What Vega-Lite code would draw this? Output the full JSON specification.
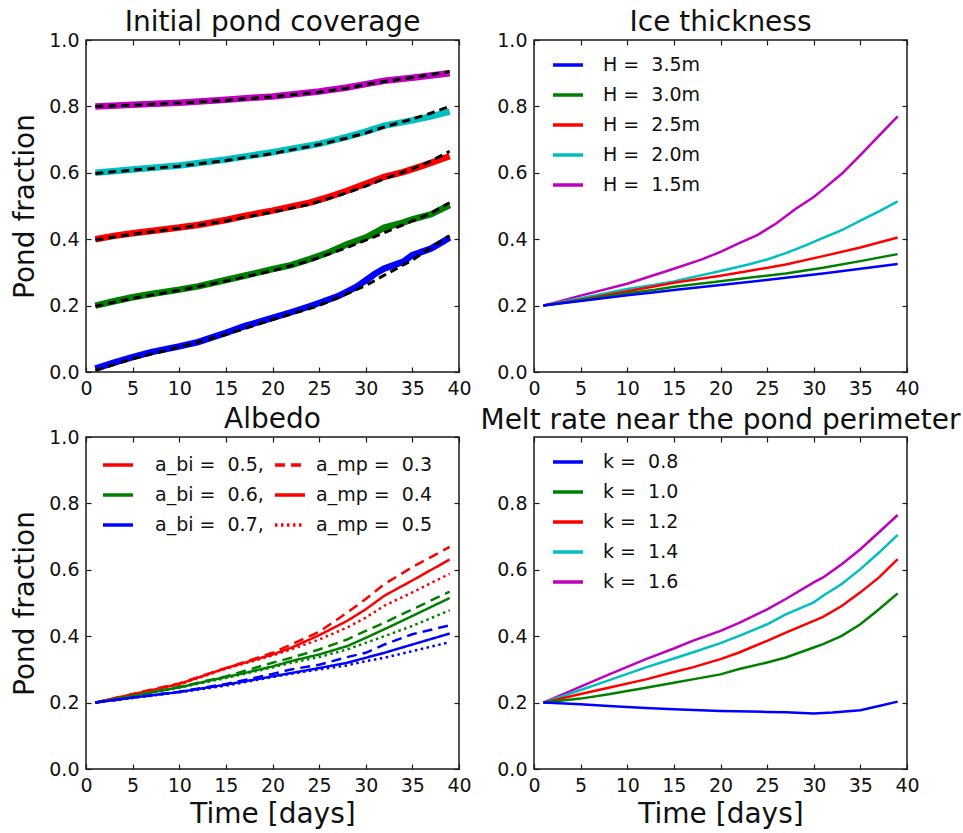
{
  "$schema": "https://vega.github.io/schema/vega-lite/v6.json",
  "padding": {"left": 11, "top": 8, "right": 0, "bottom": 0},
  "background": "white",
  "columns": 2,
  "bounds": "flush",
  "spacing": {"row": 65, "column": 75},
  "resolve": {
    "scale": {"color": "independent", "strokeDash": "independent"},
    "legend": {"color": "independent", "strokeDash": "independent"}
  },
  "datasets": {
    "pond": [
      {"day":1,"frac":0.01,"init":"0.0","kind":"model"},{"day":3,"frac":0.028,"init":"0.0","kind":"model"},{"day":5,"frac":0.045,"init":"0.0","kind":"model"},{"day":7,"frac":0.06,"init":"0.0","kind":"model"},{"day":10,"frac":0.077,"init":"0.0","kind":"model"},{"day":12,"frac":0.09,"init":"0.0","kind":"model"},{"day":15,"frac":0.118,"init":"0.0","kind":"model"},{"day":17,"frac":0.138,"init":"0.0","kind":"model"},{"day":20,"frac":0.163,"init":"0.0","kind":"model"},{"day":22,"frac":0.18,"init":"0.0","kind":"model"},{"day":24,"frac":0.198,"init":"0.0","kind":"model"},{"day":25,"frac":0.208,"init":"0.0","kind":"model"},{"day":27,"frac":0.228,"init":"0.0","kind":"model"},{"day":28,"frac":0.242,"init":"0.0","kind":"model"},{"day":29,"frac":0.256,"init":"0.0","kind":"model"},{"day":30,"frac":0.276,"init":"0.0","kind":"model"},{"day":31,"frac":0.296,"init":"0.0","kind":"model"},{"day":32,"frac":0.312,"init":"0.0","kind":"model"},{"day":33,"frac":0.322,"init":"0.0","kind":"model"},{"day":34,"frac":0.332,"init":"0.0","kind":"model"},{"day":35,"frac":0.352,"init":"0.0","kind":"model"},{"day":36,"frac":0.362,"init":"0.0","kind":"model"},{"day":37,"frac":0.372,"init":"0.0","kind":"model"},{"day":38,"frac":0.388,"init":"0.0","kind":"model"},{"day":39,"frac":0.405,"init":"0.0","kind":"model"},
      {"day":1,"frac":0.2,"init":"0.2","kind":"model"},{"day":3,"frac":0.213,"init":"0.2","kind":"model"},{"day":5,"frac":0.225,"init":"0.2","kind":"model"},{"day":7,"frac":0.235,"init":"0.2","kind":"model"},{"day":10,"frac":0.248,"init":"0.2","kind":"model"},{"day":12,"frac":0.258,"init":"0.2","kind":"model"},{"day":15,"frac":0.277,"init":"0.2","kind":"model"},{"day":17,"frac":0.29,"init":"0.2","kind":"model"},{"day":20,"frac":0.31,"init":"0.2","kind":"model"},{"day":22,"frac":0.322,"init":"0.2","kind":"model"},{"day":24,"frac":0.34,"init":"0.2","kind":"model"},{"day":26,"frac":0.36,"init":"0.2","kind":"model"},{"day":28,"frac":0.385,"init":"0.2","kind":"model"},{"day":30,"frac":0.405,"init":"0.2","kind":"model"},{"day":31,"frac":0.42,"init":"0.2","kind":"model"},{"day":32,"frac":0.435,"init":"0.2","kind":"model"},{"day":34,"frac":0.45,"init":"0.2","kind":"model"},{"day":35,"frac":0.46,"init":"0.2","kind":"model"},{"day":37,"frac":0.475,"init":"0.2","kind":"model"},{"day":39,"frac":0.503,"init":"0.2","kind":"model"},
      {"day":1,"frac":0.4,"init":"0.4","kind":"model"},{"day":3,"frac":0.41,"init":"0.4","kind":"model"},{"day":5,"frac":0.418,"init":"0.4","kind":"model"},{"day":7,"frac":0.425,"init":"0.4","kind":"model"},{"day":10,"frac":0.435,"init":"0.4","kind":"model"},{"day":12,"frac":0.443,"init":"0.4","kind":"model"},{"day":15,"frac":0.458,"init":"0.4","kind":"model"},{"day":17,"frac":0.47,"init":"0.4","kind":"model"},{"day":20,"frac":0.486,"init":"0.4","kind":"model"},{"day":22,"frac":0.498,"init":"0.4","kind":"model"},{"day":24,"frac":0.51,"init":"0.4","kind":"model"},{"day":26,"frac":0.527,"init":"0.4","kind":"model"},{"day":28,"frac":0.546,"init":"0.4","kind":"model"},{"day":30,"frac":0.567,"init":"0.4","kind":"model"},{"day":32,"frac":0.588,"init":"0.4","kind":"model"},{"day":34,"frac":0.602,"init":"0.4","kind":"model"},{"day":36,"frac":0.62,"init":"0.4","kind":"model"},{"day":38,"frac":0.64,"init":"0.4","kind":"model"},{"day":39,"frac":0.65,"init":"0.4","kind":"model"},
      {"day":1,"frac":0.6,"init":"0.6","kind":"model"},{"day":5,"frac":0.61,"init":"0.6","kind":"model"},{"day":10,"frac":0.622,"init":"0.6","kind":"model"},{"day":15,"frac":0.64,"init":"0.6","kind":"model"},{"day":20,"frac":0.662,"init":"0.6","kind":"model"},{"day":25,"frac":0.687,"init":"0.6","kind":"model"},{"day":28,"frac":0.708,"init":"0.6","kind":"model"},{"day":30,"frac":0.724,"init":"0.6","kind":"model"},{"day":32,"frac":0.742,"init":"0.6","kind":"model"},{"day":35,"frac":0.758,"init":"0.6","kind":"model"},{"day":37,"frac":0.77,"init":"0.6","kind":"model"},{"day":39,"frac":0.784,"init":"0.6","kind":"model"},
      {"day":1,"frac":0.8,"init":"0.8","kind":"model"},{"day":5,"frac":0.805,"init":"0.8","kind":"model"},{"day":10,"frac":0.811,"init":"0.8","kind":"model"},{"day":15,"frac":0.82,"init":"0.8","kind":"model"},{"day":20,"frac":0.83,"init":"0.8","kind":"model"},{"day":25,"frac":0.845,"init":"0.8","kind":"model"},{"day":28,"frac":0.857,"init":"0.8","kind":"model"},{"day":30,"frac":0.867,"init":"0.8","kind":"model"},{"day":32,"frac":0.877,"init":"0.8","kind":"model"},{"day":35,"frac":0.886,"init":"0.8","kind":"model"},{"day":37,"frac":0.893,"init":"0.8","kind":"model"},{"day":39,"frac":0.9,"init":"0.8","kind":"model"},
      {"day":1,"frac":0.005,"init":"0.0","kind":"fit"},{"day":5,"frac":0.04,"init":"0.0","kind":"fit"},{"day":10,"frac":0.075,"init":"0.0","kind":"fit"},{"day":15,"frac":0.113,"init":"0.0","kind":"fit"},{"day":20,"frac":0.158,"init":"0.0","kind":"fit"},{"day":25,"frac":0.2,"init":"0.0","kind":"fit"},{"day":28,"frac":0.236,"init":"0.0","kind":"fit"},{"day":30,"frac":0.261,"init":"0.0","kind":"fit"},{"day":31,"frac":0.276,"init":"0.0","kind":"fit"},{"day":33,"frac":0.307,"init":"0.0","kind":"fit"},{"day":35,"frac":0.337,"init":"0.0","kind":"fit"},{"day":37,"frac":0.375,"init":"0.0","kind":"fit"},{"day":39,"frac":0.41,"init":"0.0","kind":"fit"},
      {"day":1,"frac":0.198,"init":"0.2","kind":"fit"},{"day":5,"frac":0.222,"init":"0.2","kind":"fit"},{"day":10,"frac":0.246,"init":"0.2","kind":"fit"},{"day":15,"frac":0.274,"init":"0.2","kind":"fit"},{"day":20,"frac":0.305,"init":"0.2","kind":"fit"},{"day":24,"frac":0.335,"init":"0.2","kind":"fit"},{"day":28,"frac":0.375,"init":"0.2","kind":"fit"},{"day":30,"frac":0.397,"init":"0.2","kind":"fit"},{"day":32,"frac":0.42,"init":"0.2","kind":"fit"},{"day":35,"frac":0.455,"init":"0.2","kind":"fit"},{"day":37,"frac":0.478,"init":"0.2","kind":"fit"},{"day":39,"frac":0.51,"init":"0.2","kind":"fit"},
      {"day":1,"frac":0.398,"init":"0.4","kind":"fit"},{"day":5,"frac":0.415,"init":"0.4","kind":"fit"},{"day":10,"frac":0.433,"init":"0.4","kind":"fit"},{"day":15,"frac":0.455,"init":"0.4","kind":"fit"},{"day":20,"frac":0.482,"init":"0.4","kind":"fit"},{"day":24,"frac":0.505,"init":"0.4","kind":"fit"},{"day":28,"frac":0.54,"init":"0.4","kind":"fit"},{"day":30,"frac":0.56,"init":"0.4","kind":"fit"},{"day":32,"frac":0.582,"init":"0.4","kind":"fit"},{"day":35,"frac":0.612,"init":"0.4","kind":"fit"},{"day":37,"frac":0.635,"init":"0.4","kind":"fit"},{"day":39,"frac":0.665,"init":"0.4","kind":"fit"},
      {"day":1,"frac":0.598,"init":"0.6","kind":"fit"},{"day":5,"frac":0.608,"init":"0.6","kind":"fit"},{"day":10,"frac":0.62,"init":"0.6","kind":"fit"},{"day":15,"frac":0.637,"init":"0.6","kind":"fit"},{"day":20,"frac":0.658,"init":"0.6","kind":"fit"},{"day":25,"frac":0.685,"init":"0.6","kind":"fit"},{"day":28,"frac":0.705,"init":"0.6","kind":"fit"},{"day":30,"frac":0.72,"init":"0.6","kind":"fit"},{"day":32,"frac":0.738,"init":"0.6","kind":"fit"},{"day":35,"frac":0.762,"init":"0.6","kind":"fit"},{"day":37,"frac":0.78,"init":"0.6","kind":"fit"},{"day":39,"frac":0.8,"init":"0.6","kind":"fit"},
      {"day":1,"frac":0.8,"init":"0.8","kind":"fit"},{"day":5,"frac":0.804,"init":"0.8","kind":"fit"},{"day":10,"frac":0.81,"init":"0.8","kind":"fit"},{"day":15,"frac":0.818,"init":"0.8","kind":"fit"},{"day":20,"frac":0.829,"init":"0.8","kind":"fit"},{"day":25,"frac":0.843,"init":"0.8","kind":"fit"},{"day":28,"frac":0.855,"init":"0.8","kind":"fit"},{"day":30,"frac":0.866,"init":"0.8","kind":"fit"},{"day":32,"frac":0.875,"init":"0.8","kind":"fit"},{"day":35,"frac":0.887,"init":"0.8","kind":"fit"},{"day":37,"frac":0.896,"init":"0.8","kind":"fit"},{"day":39,"frac":0.905,"init":"0.8","kind":"fit"}
    ],
    "ice": [
      {"day":1,"frac":0.2,"H":"H = \u00a01.5m"},{"day":5,"frac":0.23,"H":"H = \u00a01.5m"},{"day":10,"frac":0.266,"H":"H = \u00a01.5m"},{"day":13,"frac":0.293,"H":"H = \u00a01.5m"},{"day":15,"frac":0.311,"H":"H = \u00a01.5m"},{"day":18,"frac":0.339,"H":"H = \u00a01.5m"},{"day":20,"frac":0.362,"H":"H = \u00a01.5m"},{"day":22,"frac":0.388,"H":"H = \u00a01.5m"},{"day":24,"frac":0.413,"H":"H = \u00a01.5m"},{"day":26,"frac":0.448,"H":"H = \u00a01.5m"},{"day":28,"frac":0.49,"H":"H = \u00a01.5m"},{"day":30,"frac":0.527,"H":"H = \u00a01.5m"},{"day":31,"frac":0.55,"H":"H = \u00a01.5m"},{"day":33,"frac":0.597,"H":"H = \u00a01.5m"},{"day":35,"frac":0.653,"H":"H = \u00a01.5m"},{"day":37,"frac":0.712,"H":"H = \u00a01.5m"},{"day":39,"frac":0.77,"H":"H = \u00a01.5m"},
      {"day":1,"frac":0.2,"H":"H = \u00a02.0m"},{"day":5,"frac":0.222,"H":"H = \u00a02.0m"},{"day":10,"frac":0.25,"H":"H = \u00a02.0m"},{"day":13,"frac":0.263,"H":"H = \u00a02.0m"},{"day":15,"frac":0.273,"H":"H = \u00a02.0m"},{"day":20,"frac":0.304,"H":"H = \u00a02.0m"},{"day":23,"frac":0.324,"H":"H = \u00a02.0m"},{"day":25,"frac":0.339,"H":"H = \u00a02.0m"},{"day":27,"frac":0.358,"H":"H = \u00a02.0m"},{"day":29,"frac":0.38,"H":"H = \u00a02.0m"},{"day":31,"frac":0.404,"H":"H = \u00a02.0m"},{"day":33,"frac":0.427,"H":"H = \u00a02.0m"},{"day":35,"frac":0.456,"H":"H = \u00a02.0m"},{"day":37,"frac":0.484,"H":"H = \u00a02.0m"},{"day":39,"frac":0.514,"H":"H = \u00a02.0m"},
      {"day":1,"frac":0.2,"H":"H = \u00a02.5m"},{"day":5,"frac":0.218,"H":"H = \u00a02.5m"},{"day":10,"frac":0.243,"H":"H = \u00a02.5m"},{"day":13,"frac":0.258,"H":"H = \u00a02.5m"},{"day":15,"frac":0.269,"H":"H = \u00a02.5m"},{"day":20,"frac":0.29,"H":"H = \u00a02.5m"},{"day":23,"frac":0.304,"H":"H = \u00a02.5m"},{"day":27,"frac":0.324,"H":"H = \u00a02.5m"},{"day":31,"frac":0.349,"H":"H = \u00a02.5m"},{"day":35,"frac":0.375,"H":"H = \u00a02.5m"},{"day":39,"frac":0.405,"H":"H = \u00a02.5m"},
      {"day":1,"frac":0.2,"H":"H = \u00a03.0m"},{"day":5,"frac":0.216,"H":"H = \u00a03.0m"},{"day":10,"frac":0.237,"H":"H = \u00a03.0m"},{"day":13,"frac":0.248,"H":"H = \u00a03.0m"},{"day":15,"frac":0.257,"H":"H = \u00a03.0m"},{"day":20,"frac":0.273,"H":"H = \u00a03.0m"},{"day":23,"frac":0.284,"H":"H = \u00a03.0m"},{"day":27,"frac":0.297,"H":"H = \u00a03.0m"},{"day":31,"frac":0.314,"H":"H = \u00a03.0m"},{"day":35,"frac":0.334,"H":"H = \u00a03.0m"},{"day":39,"frac":0.355,"H":"H = \u00a03.0m"},
      {"day":1,"frac":0.2,"H":"H = \u00a03.5m"},{"day":5,"frac":0.214,"H":"H = \u00a03.5m"},{"day":10,"frac":0.231,"H":"H = \u00a03.5m"},{"day":13,"frac":0.24,"H":"H = \u00a03.5m"},{"day":15,"frac":0.247,"H":"H = \u00a03.5m"},{"day":20,"frac":0.262,"H":"H = \u00a03.5m"},{"day":23,"frac":0.271,"H":"H = \u00a03.5m"},{"day":27,"frac":0.284,"H":"H = \u00a03.5m"},{"day":31,"frac":0.297,"H":"H = \u00a03.5m"},{"day":35,"frac":0.311,"H":"H = \u00a03.5m"},{"day":39,"frac":0.325,"H":"H = \u00a03.5m"}
    ],
    "albedo": [
      {"day":1,"frac":0.2,"abi":"a_bi = \u00a00.5,","amp":"a_mp = \u00a00.3"},{"day":5,"frac":0.226,"abi":"a_bi = \u00a00.5,","amp":"a_mp = \u00a00.3"},{"day":10,"frac":0.258,"abi":"a_bi = \u00a00.5,","amp":"a_mp = \u00a00.3"},{"day":15,"frac":0.304,"abi":"a_bi = \u00a00.5,","amp":"a_mp = \u00a00.3"},{"day":20,"frac":0.35,"abi":"a_bi = \u00a00.5,","amp":"a_mp = \u00a00.3"},{"day":22,"frac":0.375,"abi":"a_bi = \u00a00.5,","amp":"a_mp = \u00a00.3"},{"day":25,"frac":0.413,"abi":"a_bi = \u00a00.5,","amp":"a_mp = \u00a00.3"},{"day":28,"frac":0.471,"abi":"a_bi = \u00a00.5,","amp":"a_mp = \u00a00.3"},{"day":30,"frac":0.512,"abi":"a_bi = \u00a00.5,","amp":"a_mp = \u00a00.3"},{"day":32,"frac":0.557,"abi":"a_bi = \u00a00.5,","amp":"a_mp = \u00a00.3"},{"day":35,"frac":0.608,"abi":"a_bi = \u00a00.5,","amp":"a_mp = \u00a00.3"},{"day":39,"frac":0.669,"abi":"a_bi = \u00a00.5,","amp":"a_mp = \u00a00.3"},
      {"day":1,"frac":0.2,"abi":"a_bi = \u00a00.5,","amp":"a_mp = \u00a00.4"},{"day":5,"frac":0.225,"abi":"a_bi = \u00a00.5,","amp":"a_mp = \u00a00.4"},{"day":10,"frac":0.256,"abi":"a_bi = \u00a00.5,","amp":"a_mp = \u00a00.4"},{"day":15,"frac":0.304,"abi":"a_bi = \u00a00.5,","amp":"a_mp = \u00a00.4"},{"day":17,"frac":0.32,"abi":"a_bi = \u00a00.5,","amp":"a_mp = \u00a00.4"},{"day":20,"frac":0.345,"abi":"a_bi = \u00a00.5,","amp":"a_mp = \u00a00.4"},{"day":22,"frac":0.365,"abi":"a_bi = \u00a00.5,","amp":"a_mp = \u00a00.4"},{"day":25,"frac":0.403,"abi":"a_bi = \u00a00.5,","amp":"a_mp = \u00a00.4"},{"day":28,"frac":0.446,"abi":"a_bi = \u00a00.5,","amp":"a_mp = \u00a00.4"},{"day":30,"frac":0.481,"abi":"a_bi = \u00a00.5,","amp":"a_mp = \u00a00.4"},{"day":32,"frac":0.522,"abi":"a_bi = \u00a00.5,","amp":"a_mp = \u00a00.4"},{"day":35,"frac":0.568,"abi":"a_bi = \u00a00.5,","amp":"a_mp = \u00a00.4"},{"day":39,"frac":0.631,"abi":"a_bi = \u00a00.5,","amp":"a_mp = \u00a00.4"},
      {"day":1,"frac":0.2,"abi":"a_bi = \u00a00.5,","amp":"a_mp = \u00a00.5"},{"day":5,"frac":0.224,"abi":"a_bi = \u00a00.5,","amp":"a_mp = \u00a00.5"},{"day":10,"frac":0.254,"abi":"a_bi = \u00a00.5,","amp":"a_mp = \u00a00.5"},{"day":15,"frac":0.302,"abi":"a_bi = \u00a00.5,","amp":"a_mp = \u00a00.5"},{"day":20,"frac":0.342,"abi":"a_bi = \u00a00.5,","amp":"a_mp = \u00a00.5"},{"day":22,"frac":0.36,"abi":"a_bi = \u00a00.5,","amp":"a_mp = \u00a00.5"},{"day":25,"frac":0.39,"abi":"a_bi = \u00a00.5,","amp":"a_mp = \u00a00.5"},{"day":28,"frac":0.426,"abi":"a_bi = \u00a00.5,","amp":"a_mp = \u00a00.5"},{"day":30,"frac":0.456,"abi":"a_bi = \u00a00.5,","amp":"a_mp = \u00a00.5"},{"day":32,"frac":0.492,"abi":"a_bi = \u00a00.5,","amp":"a_mp = \u00a00.5"},{"day":35,"frac":0.532,"abi":"a_bi = \u00a00.5,","amp":"a_mp = \u00a00.5"},{"day":39,"frac":0.588,"abi":"a_bi = \u00a00.5,","amp":"a_mp = \u00a00.5"},
      {"day":1,"frac":0.2,"abi":"a_bi = \u00a00.6,","amp":"a_mp = \u00a00.3"},{"day":5,"frac":0.22,"abi":"a_bi = \u00a00.6,","amp":"a_mp = \u00a00.3"},{"day":10,"frac":0.247,"abi":"a_bi = \u00a00.6,","amp":"a_mp = \u00a00.3"},{"day":15,"frac":0.279,"abi":"a_bi = \u00a00.6,","amp":"a_mp = \u00a00.3"},{"day":20,"frac":0.32,"abi":"a_bi = \u00a00.6,","amp":"a_mp = \u00a00.3"},{"day":22,"frac":0.335,"abi":"a_bi = \u00a00.6,","amp":"a_mp = \u00a00.3"},{"day":25,"frac":0.36,"abi":"a_bi = \u00a00.6,","amp":"a_mp = \u00a00.3"},{"day":28,"frac":0.39,"abi":"a_bi = \u00a00.6,","amp":"a_mp = \u00a00.3"},{"day":30,"frac":0.416,"abi":"a_bi = \u00a00.6,","amp":"a_mp = \u00a00.3"},{"day":32,"frac":0.441,"abi":"a_bi = \u00a00.6,","amp":"a_mp = \u00a00.3"},{"day":35,"frac":0.481,"abi":"a_bi = \u00a00.6,","amp":"a_mp = \u00a00.3"},{"day":39,"frac":0.534,"abi":"a_bi = \u00a00.6,","amp":"a_mp = \u00a00.3"},
      {"day":1,"frac":0.2,"abi":"a_bi = \u00a00.6,","amp":"a_mp = \u00a00.4"},{"day":5,"frac":0.22,"abi":"a_bi = \u00a00.6,","amp":"a_mp = \u00a00.4"},{"day":10,"frac":0.246,"abi":"a_bi = \u00a00.6,","amp":"a_mp = \u00a00.4"},{"day":15,"frac":0.277,"abi":"a_bi = \u00a00.6,","amp":"a_mp = \u00a00.4"},{"day":17,"frac":0.289,"abi":"a_bi = \u00a00.6,","amp":"a_mp = \u00a00.4"},{"day":20,"frac":0.309,"abi":"a_bi = \u00a00.6,","amp":"a_mp = \u00a00.4"},{"day":22,"frac":0.325,"abi":"a_bi = \u00a00.6,","amp":"a_mp = \u00a00.4"},{"day":25,"frac":0.345,"abi":"a_bi = \u00a00.6,","amp":"a_mp = \u00a00.4"},{"day":28,"frac":0.37,"abi":"a_bi = \u00a00.6,","amp":"a_mp = \u00a00.4"},{"day":30,"frac":0.395,"abi":"a_bi = \u00a00.6,","amp":"a_mp = \u00a00.4"},{"day":32,"frac":0.421,"abi":"a_bi = \u00a00.6,","amp":"a_mp = \u00a00.4"},{"day":35,"frac":0.461,"abi":"a_bi = \u00a00.6,","amp":"a_mp = \u00a00.4"},{"day":39,"frac":0.515,"abi":"a_bi = \u00a00.6,","amp":"a_mp = \u00a00.4"},
      {"day":1,"frac":0.2,"abi":"a_bi = \u00a00.6,","amp":"a_mp = \u00a00.5"},{"day":5,"frac":0.219,"abi":"a_bi = \u00a00.6,","amp":"a_mp = \u00a00.5"},{"day":10,"frac":0.245,"abi":"a_bi = \u00a00.6,","amp":"a_mp = \u00a00.5"},{"day":15,"frac":0.274,"abi":"a_bi = \u00a00.6,","amp":"a_mp = \u00a00.5"},{"day":20,"frac":0.306,"abi":"a_bi = \u00a00.6,","amp":"a_mp = \u00a00.5"},{"day":22,"frac":0.32,"abi":"a_bi = \u00a00.6,","amp":"a_mp = \u00a00.5"},{"day":25,"frac":0.337,"abi":"a_bi = \u00a00.6,","amp":"a_mp = \u00a00.5"},{"day":28,"frac":0.36,"abi":"a_bi = \u00a00.6,","amp":"a_mp = \u00a00.5"},{"day":30,"frac":0.38,"abi":"a_bi = \u00a00.6,","amp":"a_mp = \u00a00.5"},{"day":32,"frac":0.4,"abi":"a_bi = \u00a00.6,","amp":"a_mp = \u00a00.5"},{"day":35,"frac":0.431,"abi":"a_bi = \u00a00.6,","amp":"a_mp = \u00a00.5"},{"day":39,"frac":0.478,"abi":"a_bi = \u00a00.6,","amp":"a_mp = \u00a00.5"},
      {"day":1,"frac":0.2,"abi":"a_bi = \u00a00.7,","amp":"a_mp = \u00a00.3"},{"day":5,"frac":0.215,"abi":"a_bi = \u00a00.7,","amp":"a_mp = \u00a00.3"},{"day":10,"frac":0.233,"abi":"a_bi = \u00a00.7,","amp":"a_mp = \u00a00.3"},{"day":15,"frac":0.256,"abi":"a_bi = \u00a00.7,","amp":"a_mp = \u00a00.3"},{"day":20,"frac":0.286,"abi":"a_bi = \u00a00.7,","amp":"a_mp = \u00a00.3"},{"day":22,"frac":0.3,"abi":"a_bi = \u00a00.7,","amp":"a_mp = \u00a00.3"},{"day":25,"frac":0.314,"abi":"a_bi = \u00a00.7,","amp":"a_mp = \u00a00.3"},{"day":28,"frac":0.337,"abi":"a_bi = \u00a00.7,","amp":"a_mp = \u00a00.3"},{"day":30,"frac":0.35,"abi":"a_bi = \u00a00.7,","amp":"a_mp = \u00a00.3"},{"day":32,"frac":0.375,"abi":"a_bi = \u00a00.7,","amp":"a_mp = \u00a00.3"},{"day":35,"frac":0.406,"abi":"a_bi = \u00a00.7,","amp":"a_mp = \u00a00.3"},{"day":39,"frac":0.433,"abi":"a_bi = \u00a00.7,","amp":"a_mp = \u00a00.3"},
      {"day":1,"frac":0.2,"abi":"a_bi = \u00a00.7,","amp":"a_mp = \u00a00.4"},{"day":5,"frac":0.215,"abi":"a_bi = \u00a00.7,","amp":"a_mp = \u00a00.4"},{"day":10,"frac":0.232,"abi":"a_bi = \u00a00.7,","amp":"a_mp = \u00a00.4"},{"day":15,"frac":0.254,"abi":"a_bi = \u00a00.7,","amp":"a_mp = \u00a00.4"},{"day":20,"frac":0.279,"abi":"a_bi = \u00a00.7,","amp":"a_mp = \u00a00.4"},{"day":22,"frac":0.289,"abi":"a_bi = \u00a00.7,","amp":"a_mp = \u00a00.4"},{"day":25,"frac":0.304,"abi":"a_bi = \u00a00.7,","amp":"a_mp = \u00a00.4"},{"day":28,"frac":0.32,"abi":"a_bi = \u00a00.7,","amp":"a_mp = \u00a00.4"},{"day":30,"frac":0.335,"abi":"a_bi = \u00a00.7,","amp":"a_mp = \u00a00.4"},{"day":32,"frac":0.35,"abi":"a_bi = \u00a00.7,","amp":"a_mp = \u00a00.4"},{"day":35,"frac":0.375,"abi":"a_bi = \u00a00.7,","amp":"a_mp = \u00a00.4"},{"day":39,"frac":0.408,"abi":"a_bi = \u00a00.7,","amp":"a_mp = \u00a00.4"},
      {"day":1,"frac":0.2,"abi":"a_bi = \u00a00.7,","amp":"a_mp = \u00a00.5"},{"day":5,"frac":0.214,"abi":"a_bi = \u00a00.7,","amp":"a_mp = \u00a00.5"},{"day":10,"frac":0.231,"abi":"a_bi = \u00a00.7,","amp":"a_mp = \u00a00.5"},{"day":15,"frac":0.251,"abi":"a_bi = \u00a00.7,","amp":"a_mp = \u00a00.5"},{"day":20,"frac":0.277,"abi":"a_bi = \u00a00.7,","amp":"a_mp = \u00a00.5"},{"day":22,"frac":0.287,"abi":"a_bi = \u00a00.7,","amp":"a_mp = \u00a00.5"},{"day":25,"frac":0.3,"abi":"a_bi = \u00a00.7,","amp":"a_mp = \u00a00.5"},{"day":28,"frac":0.312,"abi":"a_bi = \u00a00.7,","amp":"a_mp = \u00a00.5"},{"day":30,"frac":0.325,"abi":"a_bi = \u00a00.7,","amp":"a_mp = \u00a00.5"},{"day":32,"frac":0.335,"abi":"a_bi = \u00a00.7,","amp":"a_mp = \u00a00.5"},{"day":35,"frac":0.355,"abi":"a_bi = \u00a00.7,","amp":"a_mp = \u00a00.5"},{"day":39,"frac":0.382,"abi":"a_bi = \u00a00.7,","amp":"a_mp = \u00a00.5"}
    ],
    "melt": [
      {"day":1,"frac":0.2,"k":"k = \u00a01.6"},{"day":5,"frac":0.248,"k":"k = \u00a01.6"},{"day":8,"frac":0.284,"k":"k = \u00a01.6"},{"day":12,"frac":0.331,"k":"k = \u00a01.6"},{"day":15,"frac":0.363,"k":"k = \u00a01.6"},{"day":17,"frac":0.386,"k":"k = \u00a01.6"},{"day":20,"frac":0.416,"k":"k = \u00a01.6"},{"day":22,"frac":0.44,"k":"k = \u00a01.6"},{"day":25,"frac":0.481,"k":"k = \u00a01.6"},{"day":27,"frac":0.512,"k":"k = \u00a01.6"},{"day":30,"frac":0.562,"k":"k = \u00a01.6"},{"day":31,"frac":0.577,"k":"k = \u00a01.6"},{"day":33,"frac":0.617,"k":"k = \u00a01.6"},{"day":35,"frac":0.662,"k":"k = \u00a01.6"},{"day":37,"frac":0.713,"k":"k = \u00a01.6"},{"day":39,"frac":0.765,"k":"k = \u00a01.6"},
      {"day":1,"frac":0.2,"k":"k = \u00a01.4"},{"day":5,"frac":0.238,"k":"k = \u00a01.4"},{"day":8,"frac":0.267,"k":"k = \u00a01.4"},{"day":12,"frac":0.306,"k":"k = \u00a01.4"},{"day":15,"frac":0.333,"k":"k = \u00a01.4"},{"day":17,"frac":0.351,"k":"k = \u00a01.4"},{"day":20,"frac":0.379,"k":"k = \u00a01.4"},{"day":22,"frac":0.401,"k":"k = \u00a01.4"},{"day":25,"frac":0.436,"k":"k = \u00a01.4"},{"day":27,"frac":0.466,"k":"k = \u00a01.4"},{"day":30,"frac":0.502,"k":"k = \u00a01.4"},{"day":31,"frac":0.522,"k":"k = \u00a01.4"},{"day":33,"frac":0.557,"k":"k = \u00a01.4"},{"day":35,"frac":0.602,"k":"k = \u00a01.4"},{"day":37,"frac":0.652,"k":"k = \u00a01.4"},{"day":39,"frac":0.705,"k":"k = \u00a01.4"},
      {"day":1,"frac":0.2,"k":"k = \u00a01.2"},{"day":5,"frac":0.226,"k":"k = \u00a01.2"},{"day":8,"frac":0.245,"k":"k = \u00a01.2"},{"day":12,"frac":0.27,"k":"k = \u00a01.2"},{"day":15,"frac":0.292,"k":"k = \u00a01.2"},{"day":17,"frac":0.306,"k":"k = \u00a01.2"},{"day":20,"frac":0.331,"k":"k = \u00a01.2"},{"day":22,"frac":0.351,"k":"k = \u00a01.2"},{"day":25,"frac":0.386,"k":"k = \u00a01.2"},{"day":27,"frac":0.411,"k":"k = \u00a01.2"},{"day":30,"frac":0.446,"k":"k = \u00a01.2"},{"day":31,"frac":0.458,"k":"k = \u00a01.2"},{"day":33,"frac":0.491,"k":"k = \u00a01.2"},{"day":35,"frac":0.532,"k":"k = \u00a01.2"},{"day":37,"frac":0.577,"k":"k = \u00a01.2"},{"day":39,"frac":0.632,"k":"k = \u00a01.2"},
      {"day":1,"frac":0.2,"k":"k = \u00a01.0"},{"day":5,"frac":0.212,"k":"k = \u00a01.0"},{"day":8,"frac":0.225,"k":"k = \u00a01.0"},{"day":12,"frac":0.245,"k":"k = \u00a01.0"},{"day":15,"frac":0.26,"k":"k = \u00a01.0"},{"day":17,"frac":0.27,"k":"k = \u00a01.0"},{"day":20,"frac":0.285,"k":"k = \u00a01.0"},{"day":22,"frac":0.301,"k":"k = \u00a01.0"},{"day":25,"frac":0.321,"k":"k = \u00a01.0"},{"day":27,"frac":0.336,"k":"k = \u00a01.0"},{"day":30,"frac":0.366,"k":"k = \u00a01.0"},{"day":31,"frac":0.376,"k":"k = \u00a01.0"},{"day":33,"frac":0.401,"k":"k = \u00a01.0"},{"day":35,"frac":0.436,"k":"k = \u00a01.0"},{"day":37,"frac":0.481,"k":"k = \u00a01.0"},{"day":39,"frac":0.529,"k":"k = \u00a01.0"},
      {"day":1,"frac":0.2,"k":"k = \u00a00.8"},{"day":5,"frac":0.195,"k":"k = \u00a00.8"},{"day":8,"frac":0.19,"k":"k = \u00a00.8"},{"day":12,"frac":0.184,"k":"k = \u00a00.8"},{"day":15,"frac":0.18,"k":"k = \u00a00.8"},{"day":20,"frac":0.175,"k":"k = \u00a00.8"},{"day":25,"frac":0.172,"k":"k = \u00a00.8"},{"day":27,"frac":0.171,"k":"k = \u00a00.8"},{"day":30,"frac":0.167,"k":"k = \u00a00.8"},{"day":32,"frac":0.17,"k":"k = \u00a00.8"},{"day":35,"frac":0.177,"k":"k = \u00a00.8"},{"day":37,"frac":0.19,"k":"k = \u00a00.8"},{"day":39,"frac":0.203,"k":"k = \u00a00.8"}
    ]
  },
  "concat": [
    {
      "width": 373, "height": 332,
      "title": {"text": "Initial pond coverage", "offset": -6},
      "data": {"name": "pond"},
      "layer": [
        {
          "transform": [{"filter": "datum.kind == 'model'"}],
          "mark": {"type": "line", "strokeWidth": 6.5},
          "encoding": {
            "x": {"field": "day", "type": "quantitative", "scale": {"domain": [0, 40], "nice": false}, "axis": {"values": [0,5,10,15,20,25,30,35,40], "format": "d", "title": null}},
            "y": {"field": "frac", "type": "quantitative", "scale": {"domain": [0, 1], "nice": false}, "axis": {"values": [0,0.2,0.4,0.6,0.8,1.0], "format": ".1f", "title": "Pond fraction"}},
            "color": {"field": "init", "type": "nominal", "scale": {"domain": ["0.0","0.2","0.4","0.6","0.8"], "range": ["#0000ff","#008000","#ff0000","#00bfbf","#bf00bf"]}, "legend": null}
          }
        },
        {
          "transform": [{"filter": "datum.kind == 'fit'"}],
          "mark": {"type": "line", "strokeWidth": 3, "strokeDash": [8, 5], "color": "#000000"},
          "encoding": {
            "x": {"field": "day", "type": "quantitative", "scale": {"domain": [0, 40], "nice": false}, "axis": {"orient": "top", "values": [0,5,10,15,20,25,30,35,40], "labels": false, "title": null}},
            "y": {"field": "frac", "type": "quantitative", "scale": {"domain": [0, 1], "nice": false}, "axis": {"orient": "right", "values": [0,0.2,0.4,0.6,0.8,1.0], "labels": false, "title": null}},
            "detail": {"field": "init"}
          }
        }
      ],
      "resolve": {"axis": {"x": "independent", "y": "independent"}}
    },
    {
      "width": 373, "height": 332,
      "title": {"text": "Ice thickness", "offset": -6},
      "data": {"name": "ice"},
      "layer": [
        {
          "mark": {"type": "line", "strokeWidth": 2.5},
          "encoding": {
            "x": {"field": "day", "type": "quantitative", "scale": {"domain": [0, 40], "nice": false}, "axis": {"values": [0,5,10,15,20,25,30,35,40], "format": "d", "title": null}},
            "y": {"field": "frac", "type": "quantitative", "scale": {"domain": [0, 1], "nice": false}, "axis": {"values": [0,0.2,0.4,0.6,0.8,1.0], "format": ".1f", "title": null}},
            "color": {"field": "H", "type": "nominal", "scale": {"domain": ["H = \u00a03.5m","H = \u00a03.0m","H = \u00a02.5m","H = \u00a02.0m","H = \u00a01.5m"], "range": ["#0000ff","#008000","#ff0000","#00bfbf","#bf00bf"]},
              "legend": {"title": null, "orient": "none", "legendX": 17, "legendY": 8, "labelOffset": 18}}
          }
        },
        {
          "mark": {"type": "line", "opacity": 0},
          "encoding": {
            "x": {"field": "day", "type": "quantitative", "scale": {"domain": [0, 40], "nice": false}, "axis": {"orient": "top", "values": [0,5,10,15,20,25,30,35,40], "labels": false, "title": null}},
            "y": {"field": "frac", "type": "quantitative", "scale": {"domain": [0, 1], "nice": false}, "axis": {"orient": "right", "values": [0,0.2,0.4,0.6,0.8,1.0], "labels": false, "title": null}},
            "detail": {"field": "H"}
          }
        }
      ],
      "resolve": {"axis": {"x": "independent", "y": "independent"}}
    },
    {
      "width": 373, "height": 332,
      "title": {"text": "Albedo", "offset": -6},
      "data": {"name": "albedo"},
      "layer": [
        {
          "mark": {"type": "line", "strokeWidth": 2.5},
          "encoding": {
            "x": {"field": "day", "type": "quantitative", "scale": {"domain": [0, 40], "nice": false}, "axis": {"values": [0,5,10,15,20,25,30,35,40], "format": "d", "title": "Time [days]"}},
            "y": {"field": "frac", "type": "quantitative", "scale": {"domain": [0, 1], "nice": false}, "axis": {"values": [0,0.2,0.4,0.6,0.8,1.0], "format": ".1f", "title": "Pond fraction"}},
            "color": {"field": "abi", "type": "nominal", "scale": {"domain": ["a_bi = \u00a00.5,","a_bi = \u00a00.6,","a_bi = \u00a00.7,"], "range": ["#ff0000","#008000","#0000ff"]},
              "legend": {"title": null, "orient": "none", "legendX": 15, "legendY": 11, "labelOffset": 20}},
            "strokeDash": {"field": "amp", "type": "nominal", "scale": {"domain": ["a_mp = \u00a00.3","a_mp = \u00a00.4","a_mp = \u00a00.5"], "range": [[10, 6], [1, 0], [2.5, 3.5]]},
              "legend": {"title": null, "orient": "none", "legendX": 187, "legendY": 11, "labelOffset": 9, "symbolStrokeColor": "#ff0000"}}
          }
        },
        {
          "mark": {"type": "line", "opacity": 0},
          "encoding": {
            "x": {"field": "day", "type": "quantitative", "scale": {"domain": [0, 40], "nice": false}, "axis": {"orient": "top", "values": [0,5,10,15,20,25,30,35,40], "labels": false, "title": null}},
            "y": {"field": "frac", "type": "quantitative", "scale": {"domain": [0, 1], "nice": false}, "axis": {"orient": "right", "values": [0,0.2,0.4,0.6,0.8,1.0], "labels": false, "title": null}},
            "detail": {"field": "abi"}
          }
        }
      ],
      "resolve": {"axis": {"x": "independent", "y": "independent"}}
    },
    {
      "width": 373, "height": 332,
      "title": {"text": "Melt rate near the pond perimeter", "offset": 1},
      "data": {"name": "melt"},
      "layer": [
        {
          "mark": {"type": "line", "strokeWidth": 2.5},
          "encoding": {
            "x": {"field": "day", "type": "quantitative", "scale": {"domain": [0, 40], "nice": false}, "axis": {"values": [0,5,10,15,20,25,30,35,40], "format": "d", "title": "Time [days]"}},
            "y": {"field": "frac", "type": "quantitative", "scale": {"domain": [0, 1], "nice": false}, "axis": {"values": [0,0.2,0.4,0.6,0.8], "format": ".1f", "title": null}},
            "color": {"field": "k", "type": "nominal", "scale": {"domain": ["k = \u00a00.8","k = \u00a01.0","k = \u00a01.2","k = \u00a01.4","k = \u00a01.6"], "range": ["#0000ff","#008000","#ff0000","#00bfbf","#bf00bf"]},
              "legend": {"title": null, "orient": "none", "legendX": 17, "legendY": 8, "labelOffset": 18}}
          }
        },
        {
          "mark": {"type": "line", "opacity": 0},
          "encoding": {
            "x": {"field": "day", "type": "quantitative", "scale": {"domain": [0, 40], "nice": false}, "axis": {"orient": "top", "values": [0,5,10,15,20,25,30,35,40], "labels": false, "title": null}},
            "y": {"field": "frac", "type": "quantitative", "scale": {"domain": [0, 1], "nice": false}, "axis": {"orient": "right", "values": [0,0.2,0.4,0.6,0.8], "labels": false, "title": null}},
            "detail": {"field": "k"}
          }
        }
      ],
      "resolve": {"axis": {"x": "independent", "y": "independent"}}
    }
  ],
  "config": {
    "font": "DejaVu Sans",
    "view": {"stroke": "#1a1a1a", "strokeWidth": 1.5},
    "axis": {
      "grid": false, "domain": false, "tickSize": -5, "tickColor": "#1a1a1a", "tickWidth": 1.2,
      "labelFont": "DejaVu Sans", "labelFontSize": 19, "labelColor": "#111111", "labelPadding": 12,
      "labelFlush": false, "labelOverlap": false,
      "titleFont": "DejaVu Sans", "titleFontSize": 28, "titleFontWeight": "normal", "titleColor": "#111111", "titlePadding": 9
    },
    "axisX": {"titlePadding": 5},
    "title": {"font": "DejaVu Sans", "fontSize": 28, "fontWeight": "normal", "color": "#111111", "baseline": "alphabetic"},
    "legend": {
      "labelFont": "DejaVu Sans", "labelFontSize": 19, "labelColor": "#111111",
      "symbolType": "stroke", "symbolSize": 900, "symbolStrokeWidth": 3.5,
      "rowPadding": 3, "padding": 0, "symbolOffset": 0
    }
  }
}
